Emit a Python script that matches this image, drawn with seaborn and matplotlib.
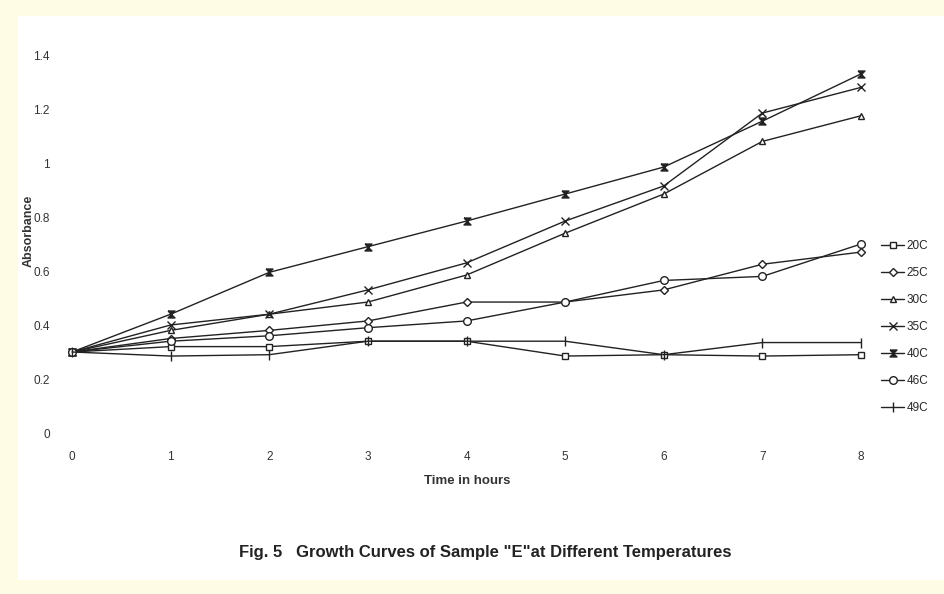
import matplotlib
matplotlib.use("Agg")
import matplotlib.pyplot as plt
from matplotlib.patches import Rectangle
import seaborn as sns
import pandas as pd

# readings
hours = [0, 1, 2, 3, 4, 5, 6, 7, 8]
temps = ["20C", "25C", "30C", "35C", "40C", "46C", "49C"]
abs_20 = [0.30, 0.32, 0.32, 0.34, 0.34, 0.285, 0.29, 0.285, 0.29]
abs_25 = [0.30, 0.35, 0.38, 0.415, 0.485, 0.485, 0.53, 0.625, 0.67]
abs_30 = [0.30, 0.38, 0.44, 0.485, 0.585, 0.74, 0.885, 1.08, 1.175]
abs_35 = [0.30, 0.40, 0.44, 0.53, 0.63, 0.785, 0.915, 1.185, 1.28]
abs_40 = [0.30, 0.44, 0.595, 0.69, 0.785, 0.885, 0.985, 1.155, 1.33]
abs_46 = [0.30, 0.34, 0.36, 0.39, 0.415, 0.485, 0.565, 0.58, 0.70]
abs_49 = [0.30, 0.285, 0.29, 0.34, 0.34, 0.34, 0.29, 0.335, 0.335]
y_ticks = [0, 0.2, 0.4, 0.6, 0.8, 1, 1.2, 1.4]
y_labels = ["0", "0.2", "0.4", "0.6", "0.8", "1", "1.2", "1.4"]

series = [abs_20, abs_25, abs_30, abs_35, abs_40, abs_46, abs_49]
rows = []
for t, vals in zip(temps, series):
    for h, v in zip(hours, vals):
        rows.append({"Time": h, "Absorbance": v, "Temp": t})
df = pd.DataFrame(rows)

hourglass = [(-1, 1), (1, 1), (-1, -1), (1, -1), (-1, 1)]
marks = {"20C": ("s", "white", 5.0),
         "25C": ("D", "white", 3.8),
         "30C": ("^", "white", 5.0),
         "35C": ("x", "none", 6.0),
         "40C": (hourglass, "#222222", 5.0),
         "46C": ("o", "white", 5.5),
         "49C": ("|", "none", 7.0)}

sns.set_theme(style="white")
plt.rcParams['font.family'] = ['Liberation Sans Narrow', 'Liberation Sans', 'DejaVu Sans']

W, H = 944, 594
fig = plt.figure(figsize=(W / 100, H / 100), dpi=100, facecolor="#FFFCE6")
fig.patches.append(Rectangle((18 / W, 14 / H), (W - 18) / W, (H - 30) / H,
                             transform=fig.transFigure, facecolor="white",
                             edgecolor="none", zorder=-10))

# axes placed so that x 0..8 -> px 72..861 and y 0..1.4 -> px 433..55
ax = fig.add_axes([72 / W, (H - 433) / H, (861 - 72) / W, (433 - 55) / H])
ax.set_facecolor("none")
ax.set_zorder(2)

for t in temps:
    m, fc, ms = marks[t]
    sub = df[df["Temp"] == t]
    sns.lineplot(data=sub, x="Time", y="Absorbance", ax=ax, label=t,
                 color="#222222", linewidth=1.0, marker=m, markersize=ms,
                 markerfacecolor=fc, markeredgecolor="#222222",
                 markeredgewidth=1.0, clip_on=False)

ax.set_xlim(0, 8)
ax.set_ylim(0, 1.4)
ax.set_xticks(hours)
ax.set_xticklabels([str(h) for h in hours])
ax.set_yticks(y_ticks)
ax.set_yticklabels(y_labels)
for s in ax.spines.values():
    s.set_visible(False)
ax.tick_params(axis="x", length=0, pad=13, labelsize=8.5, labelcolor="#333333")
ax.tick_params(axis="y", length=0, pad=16, labelsize=8.5, labelcolor="#333333")
ax.set_xlabel("")
ax.set_ylabel("")

fig.text(29 / W, 1 - 231 / H, "Absorbance", rotation=90, ha="center",
         va="center", fontsize=9, fontweight="bold", color="#333333")
fig.text(467 / W, 1 - 481 / H, "Time in hours", ha="center", va="center",
         fontsize=9.5, fontweight="bold", color="#333333")
fig.text(485 / W, 1 - 553 / H,
         'Fig. 5   Growth Curves of Sample "E"at Different Temperatures',
         ha="center", va="center", fontsize=12, fontweight="bold",
         color="#222222")

handles, labels = ax.get_legend_handles_labels()
ax.get_legend().remove()
fig.legend(handles, labels, loc="upper left",
           bbox_to_anchor=(876 / W, 1 - 235 / H), frameon=False,
           fontsize=8.5, handlelength=2.0, handletextpad=0.2,
           labelspacing=1.28, borderaxespad=0)

fig.savefig("out.png", dpi=100, facecolor=fig.get_facecolor())
